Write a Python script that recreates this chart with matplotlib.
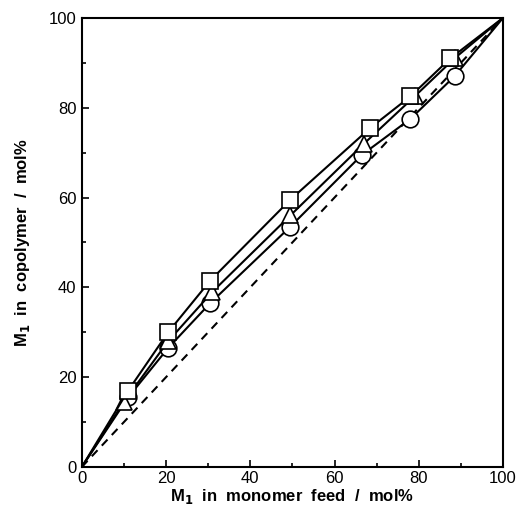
import matplotlib
matplotlib.use("Agg")
import matplotlib.pyplot as plt
from matplotlib.ticker import MultipleLocator

plt.rcParams['font.family'] = ['Liberation Sans', 'DejaVu Sans']

sq_x = [0, 11, 20.5, 30.5, 49.5, 68.5, 78, 87.5, 100]
sq_y = [0, 17, 30, 41.5, 59.5, 75.5, 82.5, 91, 100]
tri_x = [0, 10, 20.5, 31, 49.5, 67, 79, 88.5, 100]
tri_y = [0, 14.5, 28, 39, 56, 72, 82.5, 91, 100]
ci_x = [0, 11, 20.5, 30.5, 49.5, 66.5, 78, 88.5, 100]
ci_y = [0, 15.5, 26.5, 36.5, 53.5, 69.5, 77.5, 87, 100]
diag = [0, 100]

fig = plt.figure(figsize=(5.18, 5.27), dpi=100)
ax = fig.add_axes([0.158, 0.114, 0.813, 0.852])

ax.plot(diag, diag, 'k--', lw=1.5, dashes=(4, 3))
for xs, ys, m, ms in [(ci_x, ci_y, 'o', 12), (tri_x, tri_y, '^', 12), (sq_x, sq_y, 's', 12)]:
    ax.plot(xs, ys, '-', color='k', lw=1.5)
    ax.plot(xs[1:-1], ys[1:-1], m, ms=ms, mfc='white', mec='k', mew=1.2, ls='none')

ax.set_xlim(0, 100)
ax.set_ylim(0, 100)
ax.xaxis.set_major_locator(MultipleLocator(20))
ax.yaxis.set_major_locator(MultipleLocator(20))
ax.xaxis.set_minor_locator(MultipleLocator(10))
ax.yaxis.set_minor_locator(MultipleLocator(10))
ax.tick_params(which='both', direction='in', labelsize=12, width=1.2)
ax.tick_params(which='major', length=5)
ax.tick_params(which='minor', length=3)
ax.tick_params(axis='x', pad=3)
ax.tick_params(axis='y', pad=4)
for s in ax.spines.values():
    s.set_linewidth(1.5)

ax.set_xlabel('M$_\\mathbf{1}$  in  monomer  feed  /  mol%', fontsize=12, fontweight='bold', labelpad=1)
ax.set_ylabel('M$_\\mathbf{1}$  in  copolymer  /  mol%', fontsize=12, fontweight='bold', labelpad=12)

fig.savefig('out.png', dpi=100)
